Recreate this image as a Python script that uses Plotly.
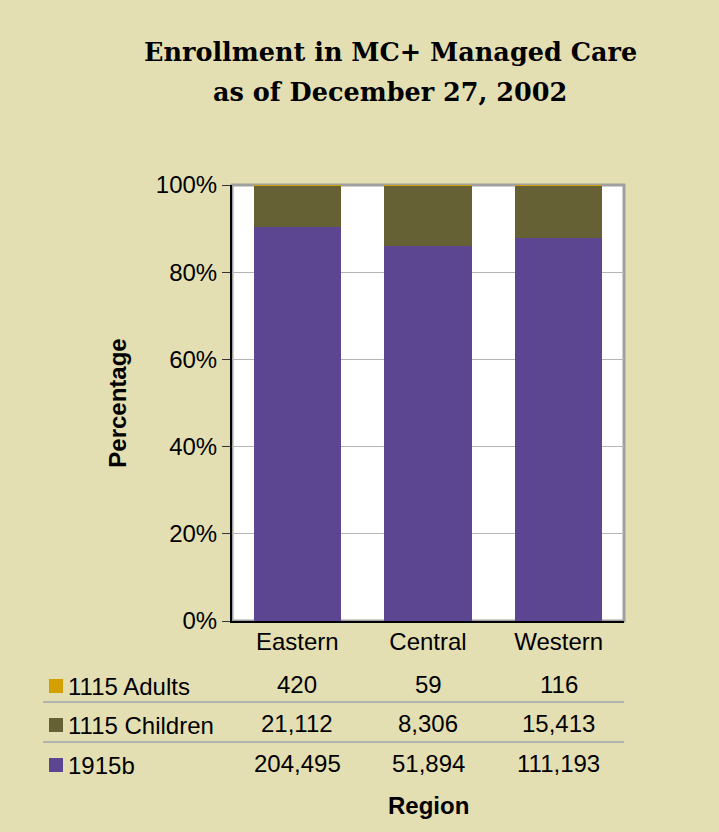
import plotly.graph_objects as go

regions = ["Eastern", "Central", "Western"]
series_names = ["1915b", "1115 Children", "1115 Adults"]
v_1915b = [204495, 51894, 111193]
v_children = [21112, 8306, 15413]
v_adults = [420, 59, 116]
series_values = [v_1915b, v_children, v_adults]
y_ticks = [0, 20, 40, 60, 80, 100]
y_tick_labels = ["0%", "20%", "40%", "60%", "80%", "100%"]

colors = {"1915b": "#5C4692", "1115 Children": "#666035", "1115 Adults": "#D4A000"}
BG = "#E4DFB3"
W, H = 719, 832
L, R, T, B = 232, 624, 185, 621
FS = 24


def px_x(px):
    return (px - L) / (R - L)


def px_y(py):
    return (B - py) / (B - T)


fig = go.Figure()
for name, vals in zip(series_names, series_values):
    fig.add_trace(go.Bar(x=regions, y=vals, name=name, marker_color=colors[name],
                         marker_line_width=0, showlegend=False))

font_main = "Liberation Sans, Arial, sans-serif"
fig.update_layout(
    width=W, height=H,
    margin=dict(l=L, r=W - R, t=T, b=H - B, pad=0),
    paper_bgcolor=BG, plot_bgcolor="white",
    barmode="stack", barnorm="percent", bargap=0.33,
    font=dict(family=font_main, size=FS, color="black"),
    xaxis=dict(showline=True, linecolor="black", linewidth=2, ticks="",
               tickfont=dict(size=FS), showgrid=False, fixedrange=True,
               ticklabelstandoff=-2),
    yaxis=dict(range=[0, 100], tickvals=y_ticks, ticktext=y_tick_labels,
               showline=True, linecolor="black", linewidth=2,
               ticks="outside", ticklen=8, tickcolor="#333", tickwidth=1,
               gridcolor="#B4B4B4", gridwidth=1, zeroline=False,
               title=dict(text="<b>Percentage</b>", font=dict(size=FS), standoff=22),
               tickfont=dict(size=FS), fixedrange=True),
)

# border on top/right of plot area
fig.add_shape(type="rect", xref="paper", yref="paper", x0=0, x1=1, y0=0, y1=1,
              line=dict(color="#A0A0A0", width=3), layer="below")

# title
title_font = dict(family="DejaVu Serif, serif", size=25.5, color="black")
fig.add_annotation(text="<b>Enrollment in MC+ Managed Care</b>", xref="paper", yref="paper",
                   x=px_x(390), y=px_y(52), showarrow=False, font=title_font,
                   xanchor="center", yanchor="middle")
fig.add_annotation(text="<b>as of December 27, 2002</b>", xref="paper", yref="paper",
                   x=px_x(390), y=px_y(92), showarrow=False, font=title_font,
                   xanchor="center", yanchor="middle")

# data table
row_names = ["1115 Adults", "1115 Children", "1915b"]
row_values = {"1115 Adults": v_adults, "1115 Children": v_children, "1915b": v_1915b}
row_py = [686, 725, 765]
for name, py in zip(row_names, row_py):
    fig.add_shape(type="rect", xref="paper", yref="paper",
                  x0=px_x(49), x1=px_x(63), y0=px_y(py - 7), y1=px_y(py + 7),
                  fillcolor=colors[name], line=dict(width=0))
    fig.add_annotation(text=name, xref="paper", yref="paper", x=px_x(66), y=px_y(py),
                       xanchor="left", yanchor="middle", showarrow=False,
                       font=dict(size=FS))
    for reg, val in zip(regions, row_values[name]):
        fig.add_annotation(text=f"{val:,}", xref="x", yref="paper", x=reg, y=px_y(py - 2),
                           xanchor="center", yanchor="middle", showarrow=False,
                           font=dict(size=FS))

for py in [702, 742]:
    fig.add_shape(type="line", xref="paper", yref="paper", x0=px_x(43), x1=1,
                  y0=px_y(py), y1=px_y(py), line=dict(color="#A0A4B0", width=1.5))

fig.add_annotation(text="<b>Region</b>", xref="paper", yref="paper", x=0.5, y=px_y(805),
                   xanchor="center", yanchor="middle", showarrow=False, font=dict(size=FS))

fig.write_html("out.html")
